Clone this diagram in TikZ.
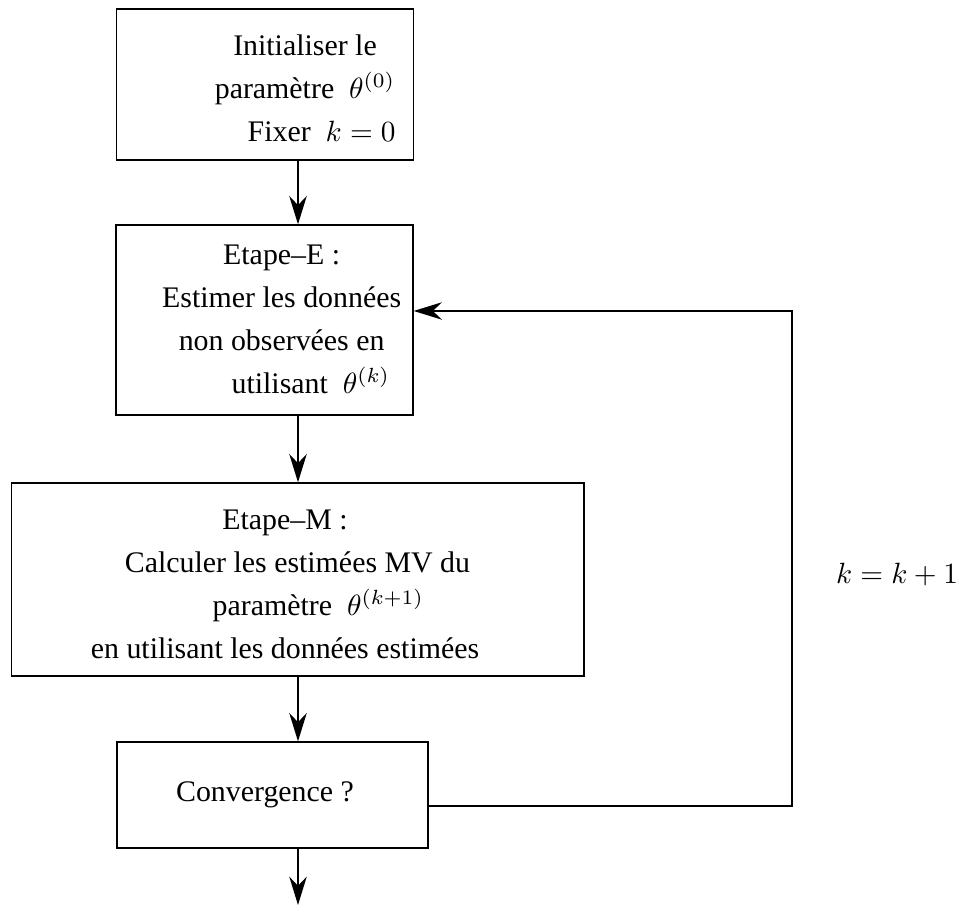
\documentclass[tikz,border=0pt]{standalone}
\usepackage{fontspec}
\setmainfont{Liberation Serif}
\usetikzlibrary{arrows.meta}

\tikzset{
  boite/.style={draw, line width=0.45pt, inner sep=0pt},
  texte/.style={align=center, inner sep=0pt, font=\fontsize{10.2}{14.7}\selectfont},
  fleche/.style={line width=0.45pt, -{Stealth[length=3.4mm, width=2.1mm, inset=1.1mm]}}
}

\begin{document}
\begin{tikzpicture}
            \useasboundingbox (0,0) rectangle (11.472,10.932);

            % cadres
            \node[boite, minimum width=3.564cm, minimum height=1.812cm] (init) at (3.18,9.918) {};
            \node[boite, minimum width=3.564cm, minimum height=2.28cm] (etapeE) at (3.174,7.092) {};
            \node[boite, minimum width=6.868cm, minimum height=2.316cm] (etapeM) at (3.574,3.978) {};
            \node[boite, minimum width=3.732cm, minimum height=1.272cm] (conv) at (3.27,1.392) {};

            % textes
            \node[texte] (tinit) at (3.66,9.876) {Initialiser le\\ paramètre~~$\theta^{(0)}$\\ \hspace*{0.4cm}Fixer~~$k=0$};
            \node[texte] (tetapeE) at (3.38,7.104) {Etape--E :\\ Estimer les données\\ non observées en\\ \hspace*{0.7cm}utilisant~~$\theta^{(k)}$};
            \node[texte] (tetapeM) at (3.42,3.924) {Etape--M :\\ \hspace*{0.3cm}Calculer les estimées MV du\\ \hspace*{0.8cm}paramètre~~$\theta^{(k+1)}$\\ en utilisant les données estimées};
            \node[texte] (tconv) at (3.18,1.392) {Convergence ?};
            \node[texte] (iter) at (10.764,4.032) {$k=k+1$};

            \coordinate (fin) at (3.576,0.072);
            \coordinate (haut) at (9.504,7.2);
            \coordinate (bas) at (9.504,1.26);

            % fleches
            \draw[fleche] (init.south -| fin) -- (etapeE.north -| fin);
            \draw[fleche] (etapeE.south -| fin) -- (etapeM.north -| fin);
            \draw[fleche] (etapeM.south -| fin) -- (conv.north -| fin);
            \draw[fleche] (conv.south -| fin) -- (fin);
            \draw[fleche] (conv.east |- bas) -- (bas) -- (haut) -- (etapeE.east |- haut);
        \end{tikzpicture}
\end{document}
